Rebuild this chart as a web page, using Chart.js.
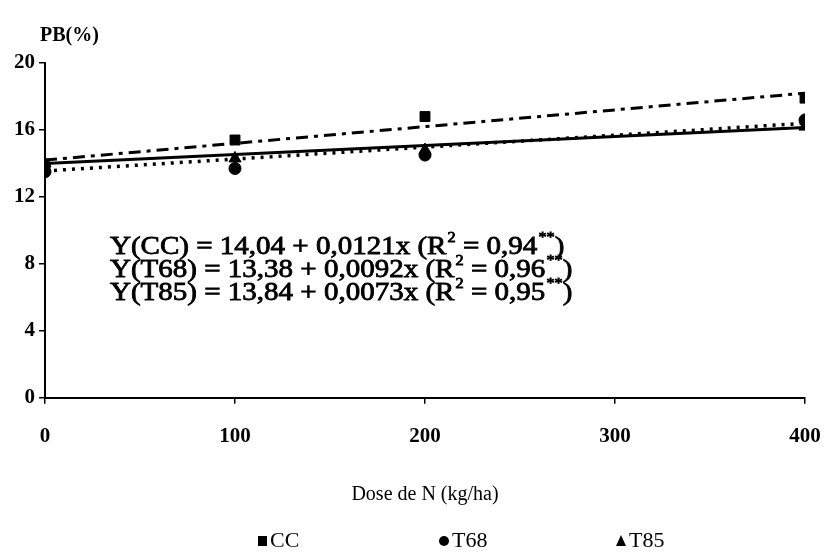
<!DOCTYPE html>
<html><head><meta charset="utf-8">
<script src="https://cdn.jsdelivr.net/npm/chart.js"></script>
<style>html,body{margin:0;padding:0;background:#fff;} #wrap{width:825px;height:556px;position:relative;}</style>
</head><body><div id="wrap"><canvas id="c"></canvas></div>
<script>
// ---- data ----
const doses = [0, 100, 200, 400];
const ccValues = [13.8, 15.4, 16.8, 17.9];
const t68Values = [13.5, 13.7, 14.5, 16.6];
const t85Values = [14.0, 14.3, 14.8, 16.2];
const fitX = [0, 400];
const ccFit = [14.2, 18.2];
const t68Fit = [13.55, 16.4];
const t85Fit = [14.0, 16.15];
const seriesNames = ['CC', 'T68', 'T85'];
const yTitle = 'PB(%)';
const xTitle = 'Dose de N (kg/ha)';
const eqLabels = ['Y(CC) = 14,04 + 0,0121x', 'Y(T68) = 13,38 + 0,0092x', 'Y(T85) = 13,84 + 0,0073x'];
const r2Values = ['0,94', '0,96', '0,95'];

const pts = (xs, ys) => xs.map((x, i) => ({x, y: ys[i]}));
const SERIF = '"Liberation Serif", "DejaVu Serif", serif';

const overlay = {
  id: 'overlay',
  afterDraw(chart) {
    const {ctx} = chart;
    ctx.save();
    ctx.fillStyle = '#000';
    ctx.strokeStyle = '#000';
    // y title
    ctx.font = 'bold 20px ' + SERIF;
    ctx.textBaseline = 'middle';
    ctx.textAlign = 'left';
    ctx.fillText(yTitle, 40, 36);
    // equations
    const eqFont = '25px ' + SERIF;
    const supFont = '14px ' + SERIF;
    const put = (t, x, y) => { ctx.fillText(t, x, y); ctx.strokeText(t, x, y); };
    ctx.lineWidth = 0.8;
    let y = 247;
    eqLabels.forEach((lab, i) => {
      ctx.save();
      ctx.translate(110, y);
      ctx.scale(1.16, 1);
      let x = 0;
      ctx.font = eqFont;
      const s1 = lab + ' (R';
      put(s1, x, 0); x += ctx.measureText(s1).width;
      ctx.font = supFont;
      put('2', x + 1, -9); x += ctx.measureText('2').width + 1;
      ctx.font = eqFont;
      const s2 = ' = ' + r2Values[i];
      put(s2, x, 0); x += ctx.measureText(s2).width;
      ctx.font = supFont;
      put('**', x + 1, -9); x += ctx.measureText('**').width + 1;
      ctx.font = eqFont;
      put(')', x, 0);
      ctx.restore();
      y += 23;
    });
    // legend
    const ly = 541;
    const lx = [262, 444, 621];
    ctx.font = '22px ' + SERIF;
    seriesNames.forEach((n, i) => {
      const ds = chart.data.datasets[i];
      const cx = lx[i];
      ctx.beginPath();
      if (ds.pointStyle === 'rect') ctx.rect(cx - 4, ly - 5, 9, 10);
      else if (ds.pointStyle === 'circle') ctx.arc(cx, ly, 5, 0, Math.PI * 2);
      else { ctx.moveTo(cx, ly - 6); ctx.lineTo(cx + 5, ly + 5); ctx.lineTo(cx - 5, ly + 5); ctx.closePath(); }
      ctx.fill();
      ctx.fillText(n, cx + 8, ly);
    });
    ctx.restore();
  }
};

const markerDs = (label, data, style, r) => ({
  label, data: pts(doses, data), showLine: false, pointStyle: style,
  pointRadius: r, pointBackgroundColor: '#000', pointBorderColor: '#000', borderColor: '#000', order: 0
});
const lineDs = (label, data, dash, w) => ({
  label, data: pts(fitX, data), showLine: true, pointRadius: 0, borderColor: '#000',
  borderWidth: w, borderDash: dash, fill: false, order: 1
});

new Chart(document.getElementById('c'), {
  type: 'scatter',
  data: {
    datasets: [
      markerDs(seriesNames[0], ccValues, 'rect', 7),
      markerDs(seriesNames[1], t68Values, 'circle', 6),
      markerDs(seriesNames[2], t85Values, 'triangle', 7),
      lineDs(seriesNames[0] + ' fit', ccFit, [12, 6, 4, 6], 3),
      lineDs(seriesNames[1] + ' fit', t68Fit, [3, 6], 3.5),
      lineDs(seriesNames[2] + ' fit', t85Fit, [], 3)
    ]
  },
  options: {
    responsive: true, maintainAspectRatio: false, animation: false,
    layout: {padding: {top: 63, left: 0, right: 20, bottom: 49}},
    plugins: {legend: {display: false}, tooltip: {enabled: false}},
    scales: {
      x: {
        type: 'linear', min: 0, max: 400,
        ticks: {stepSize: 100, color: '#000', padding: 20, font: {family: SERIF, size: 21, weight: 'bold'}},
        grid: {display: true, drawOnChartArea: false, drawTicks: true, tickLength: 6, color: '#000', lineWidth: 1.5},
        border: {display: true, color: '#000', width: 2},
        title: {display: true, text: xTitle, color: '#000', font: {family: SERIF, size: 20}, padding: {top: 14, bottom: 0}},
        afterFit: (s) => { s.paddingLeft = 0; s.paddingRight = 0; }
      },
      y: {
        min: 0, max: 20,
        ticks: {stepSize: 4, color: '#000', padding: 4, font: {family: SERIF, size: 21, weight: 'bold'}},
        grid: {display: true, drawOnChartArea: false, drawTicks: true, tickLength: 6, color: '#000', lineWidth: 1.5},
        border: {display: true, color: '#000', width: 2},
        afterFit: (s) => { s.width = 45; }
      }
    }
  },
  plugins: [overlay]
});
</script></body></html>
